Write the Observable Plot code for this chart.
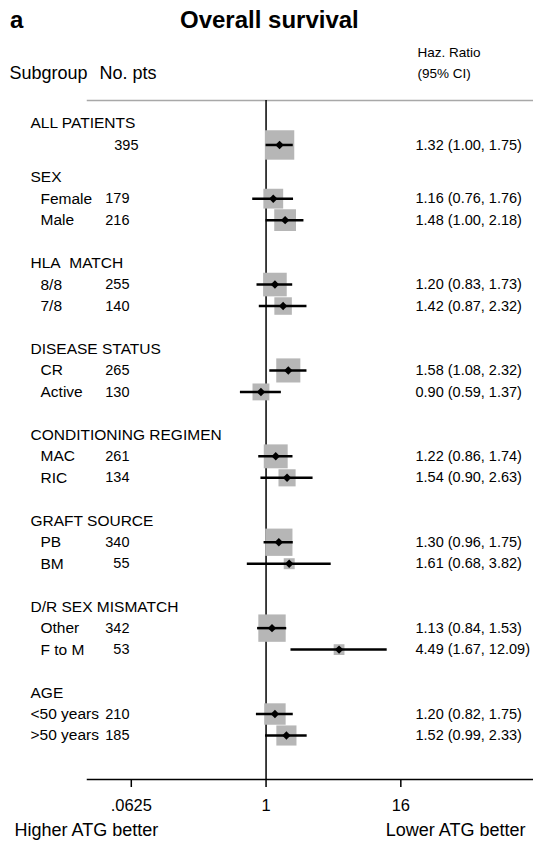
<!DOCTYPE html>
<html>
<head>
<meta charset="utf-8">
<script src="https://cdn.jsdelivr.net/npm/d3@7"></script>
<script src="https://cdn.jsdelivr.net/npm/@observablehq/plot@0.6"></script>
<style>
  body { margin: 0; background: #fff; font-family: "Liberation Sans", Arial, sans-serif; color: #000; }
  #head { position: relative; width: 533px; height: 40px; }
  #head span { position: absolute; top: 7px; line-height: 26px; font-weight: bold; font-size: 24px; }
</style>
</head>
<body>
<div id="head"><span style="left:10px">a</span><span style="left:180px">Overall survival</span></div>
<div id="chart"></div>
<script>
// Subgroup headings and the rows that belong to each of them
const groupNames = ["ALL PATIENTS", "SEX", "HLA\u00a0 MATCH", "DISEASE STATUS",
  "CONDITIONING REGIMEN", "GRAFT SOURCE", "D/R SEX MISMATCH", "AGE"];
const groupOf = [0, 1, 1, 2, 2, 3, 3, 4, 4, 5, 5, 6, 6, 7, 7];
const labels = ["", "Female", "Male", "8/8", "7/8", "CR", "Active", "MAC", "RIC",
  "PB", "BM", "Other", "F to M", "<50 years", ">50 years"];
const patients = [395, 179, 216, 255, 140, 265, 130, 261, 134, 340, 55, 342, 53, 210, 185];
const hazardRatio = [1.32, 1.16, 1.48, 1.20, 1.42, 1.58, 0.90, 1.22, 1.54, 1.30, 1.61, 1.13, 4.49, 1.20, 1.52];
const ciLow = [1.00, 0.76, 1.00, 0.83, 0.87, 1.08, 0.59, 0.86, 0.90, 0.96, 0.68, 0.84, 1.67, 0.82, 0.99];
const ciHigh = [1.75, 1.76, 2.18, 1.73, 2.32, 2.32, 1.37, 1.74, 2.63, 1.75, 3.82, 1.53, 12.09, 1.75, 2.33];
const xTicks = [0.0625, 1, 16];

// Lay the table out row by row: a heading, then its subgroups, blank space between groups
const headers = [];
const rows = [];
let pos = 0;
groupNames.forEach((name, g) => {
  if (g > 0) pos += g === 1 ? 1.5 : 2;
  headers.push({name, pos});
  groupOf.forEach((gi, i) => {
    if (gi !== g) return;
    pos += 1;
    rows.push({label: labels[i], n: patients[i], hr: hazardRatio[i], lo: ciLow[i], hi: ciHigh[i], pos});
  });
});
const lastPos = pos;

const f2 = d3.format(".2f");
const hrText = d => `${f2(d.hr)} (${f2(d.lo)}, ${f2(d.hi)})`;

const font = 15.5, numFont = 14.5;

const chart = Plot.plot({
  width: 533,
  height: 805,
  marginLeft: 87,
  marginRight: 0,
  marginTop: 60,
  marginBottom: 66,
  style: {fontFamily: "'Liberation Sans', Arial, sans-serif", fontSize: "15px", color: "#000", background: "#fff", overflow: "visible"},
  x: {type: "log", base: 2, domain: [2 ** -5.3, 2 ** 7.938]},
  y: {domain: [0, lastPos], range: [83, 695], axis: null},
  r: {type: "sqrt", domain: [0, 395], range: [0, 16.6]},
  marks: [
    Plot.frame({anchor: "top", stroke: "#a8a8a8", strokeWidth: 1.5}),
    Plot.frame({anchor: "bottom", stroke: "#000", strokeWidth: 1.5}),
    Plot.ruleX([1], {stroke: "#000", strokeWidth: 1.5}),
    // weight boxes, area proportional to the number of patients
    Plot.dot(rows, {x: "hr", y: "pos", r: "n", symbol: "square", fill: "#b6b6b6", stroke: null}),
    // 95% confidence intervals and point estimates
    Plot.ruleY(rows, {y: "pos", x1: "lo", x2: "hi", stroke: "#000", strokeWidth: 2.5}),
    Plot.dot(rows, {x: "hr", y: "pos", symbol: "diamond2", r: 3.8, fill: "#000", stroke: null}),
    Plot.axisX(xTicks, {
      anchor: "bottom", tickSize: 8, tickPadding: 12, fontSize: 16.5, strokeWidth: 1.5,
      tickFormat: d => d < 1 ? String(d).replace(/^0/, "") : String(d)
    }),
    // column headings
    Plot.text(["Subgroup"], {text: d => d, frameAnchor: "top-left", dx: -78, dy: -27, lineAnchor: "middle", textAnchor: "start", fontSize: 18}),
    Plot.text(["No. pts"], {text: d => d, frameAnchor: "top-left", dx: 12, dy: -27, lineAnchor: "middle", textAnchor: "start", fontSize: 18}),
    Plot.text(["Haz. Ratio"], {text: d => d, frameAnchor: "top-right", dx: -116, dy: -48, lineAnchor: "middle", textAnchor: "start", fontSize: 13.5}),
    Plot.text(["(95% CI)"], {text: d => d, frameAnchor: "top-right", dx: -116, dy: -27, lineAnchor: "middle", textAnchor: "start", fontSize: 13.5}),
    // table text
    Plot.text(headers, {y: "pos", text: "name", frameAnchor: "left", dx: -57, textAnchor: "start", fontSize: font}),
    Plot.text(rows, {filter: d => d.label && d.label.length <= 6, y: "pos", text: "label", frameAnchor: "left", dx: -47, textAnchor: "start", fontSize: font}),
    Plot.text(rows, {filter: d => d.label.length > 6, y: "pos", text: "label", frameAnchor: "left", dx: -57, textAnchor: "start", fontSize: font}),
    Plot.text(rows, {filter: d => d.label, y: "pos", text: d => String(d.n), frameAnchor: "left", dx: 42, textAnchor: "end", fontSize: numFont}),
    Plot.text(rows, {filter: d => !d.label, y: "pos", text: d => String(d.n), frameAnchor: "left", dx: 51, textAnchor: "end", fontSize: numFont}),
    Plot.text(rows, {y: "pos", text: hrText, frameAnchor: "right", dx: -118, textAnchor: "start", fontSize: numFont}),
    // direction labels under the axis
    Plot.text(["Higher ATG better"], {text: d => d, frameAnchor: "bottom-left", dx: -73, dy: 51, lineAnchor: "middle", textAnchor: "start", fontSize: 18}),
    Plot.text(["Lower ATG better"], {text: d => d, frameAnchor: "bottom-right", dx: -8, dy: 51, lineAnchor: "middle", textAnchor: "end", fontSize: 18})
  ]
});
document.getElementById("chart").appendChild(chart);
</script>
</body>
</html>
